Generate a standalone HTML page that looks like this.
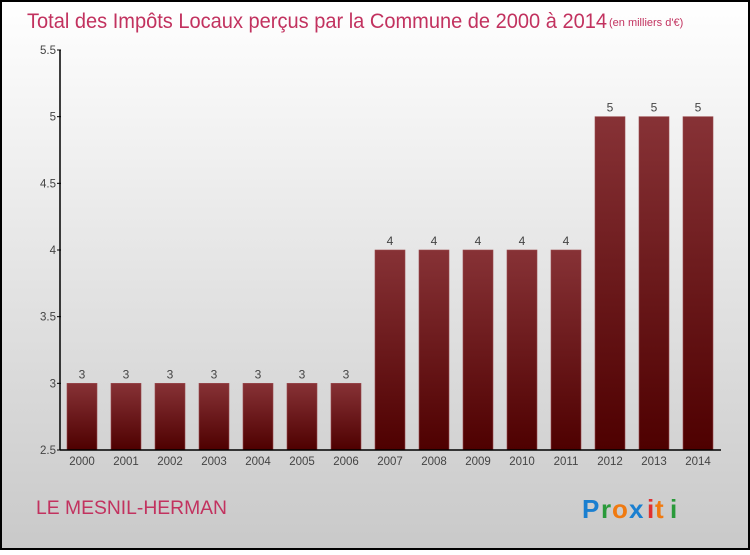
<!DOCTYPE html>
<html><head><meta charset="utf-8"><style>
body{margin:0;}
#c{width:750px;height:550px;position:relative;font-family:"Liberation Sans",sans-serif;}
</style></head><body>
<div id="c">
<svg id="s" width="750" height="550" xmlns="http://www.w3.org/2000/svg">
<defs>
<linearGradient id="bg" x1="0" y1="0" x2="0" y2="1"><stop offset="0" stop-color="#ffffff"/><stop offset="1" stop-color="#c9c9c9"/></linearGradient>
<linearGradient id="bar" x1="0" y1="0" x2="0" y2="1"><stop offset="0" stop-color="#873236"/><stop offset="1" stop-color="#4e0000"/></linearGradient>
</defs>
<rect x="1" y="1" width="748" height="548" fill="url(#bg)" stroke="#000" stroke-width="2"/>
<text x="27" y="28" font-size="21" fill="#c2325f" textLength="580" lengthAdjust="spacingAndGlyphs">Total des Impôts Locaux perçus par la Commune de 2000 à 2014</text>
<text x="609" y="26" font-size="11" fill="#c2325f">(en milliers d'€)</text>
<g id="bars"></g>
<g id="axes"></g>
<text x="36" y="514" font-size="19" fill="#c2325f" textLength="191" lengthAdjust="spacingAndGlyphs">LE MESNIL-HERMAN</text>
<g font-size="26" font-weight="bold" font-family="Liberation Sans,sans-serif">
<text x="582" y="518" fill="#1a7fd0">P</text><text x="601" y="518" fill="#2a9a3a">r</text><text x="612" y="518" fill="#f07a10">o</text><text x="629" y="518" fill="#1a7fd0">x</text><text x="647" y="518" fill="#e03030">i</text><text x="655" y="518" fill="#f07a10">t</text><text x="670" y="518" fill="#2a9a3a">i</text>
</g>
</svg>
</div>
<script>
const categories=["2000","2001","2002","2003","2004","2005","2006","2007","2008","2009","2010","2011","2012","2013","2014"];
const values=[3,3,3,3,3,3,3,4,4,4,4,4,5,5,5];
const valueLabels=["3","3","3","3","3","3","3","4","4","4","4","4","5","5","5"];
const yTicks=[2.5,3,3.5,4,4.5,5,5.5];
const yTickLabels=["2.5","3","3.5","4","4.5","5","5.5"];
const NS="http://www.w3.org/2000/svg";
const y0=450,y1=50,vmin=2.5,vmax=5.5;
function yScale(v){return y0-(v-vmin)/(vmax-vmin)*(y0-y1);}
function xCenter(i){return 82+i*44;}
function mk(t,a,p){const e=document.createElementNS(NS,t);for(const k in a)e.setAttribute(k,a[k]);p.appendChild(e);return e;}
const bars=document.getElementById('bars'),axes=document.getElementById('axes');
categories.forEach((c,i)=>{
 const y=yScale(values[i]);
 const r=mk('rect',{x:xCenter(i)-15,y:y,width:30,height:y0-y,fill:'url(#bar)',stroke:'#9a4a4e','stroke-width':0.6},bars);
 
 
 const t=mk('text',{x:xCenter(i),y:y-5,'font-size':12,fill:'#444','text-anchor':'middle'},bars);
 t.textContent=valueLabels[i];
 
 
 const xl=mk('text',{x:xCenter(i),y:y0+15,'font-size':11.5,fill:'#444','text-anchor':'middle'},axes);
 xl.textContent=c;
 
 
});
const ya=mk('line',{x1:60,y1:y1,x2:60,y2:y0,stroke:'#000','stroke-width':1.5},axes);


const xa=mk('line',{x1:60,y1:y0,x2:721,y2:y0,stroke:'#000','stroke-width':1.5},axes);


yTicks.forEach((v,i)=>{
 const y=yScale(v);
 mk('line',{x1:57,y1:y,x2:61,y2:y,stroke:'#000','stroke-width':1},axes);
 const t=mk('text',{x:56,y:y+4,'font-size':11.5,fill:'#444','text-anchor':'end'},axes);
 t.textContent=yTickLabels[i];
 
 
});
</script>
</body></html>
